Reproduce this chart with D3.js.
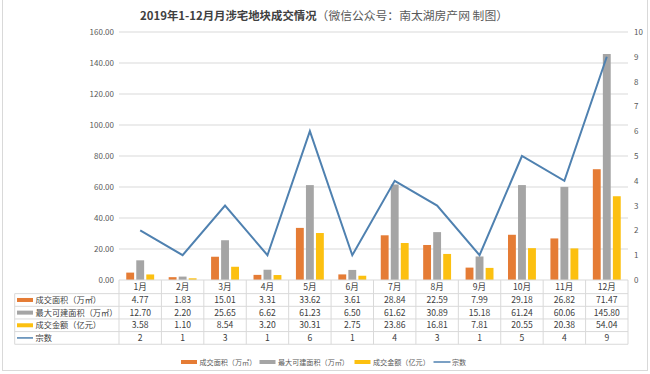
<!DOCTYPE html>
<html><head><meta charset="utf-8">
<script src="https://cdn.jsdelivr.net/npm/d3@7"></script>
<style>
html,body{margin:0;padding:0;background:#fff;}
text{font-family:"Noto Sans CJK SC","Noto Sans",sans-serif;}
</style></head>
<body><svg id="c" width="650" height="374"></svg>
<script>
const months = ["1月","2月","3月","4月","5月","6月","7月","8月","9月","10月","11月","12月"];
const area = [4.77,1.83,15.01,3.31,33.62,3.61,28.84,22.59,7.99,29.18,26.82,71.47];
const maxArea = [12.70,2.20,25.65,6.62,61.23,6.50,61.62,30.89,15.18,61.24,60.06,145.80];
const amount = [3.58,1.10,8.54,3.20,30.31,2.75,23.86,16.81,7.81,20.55,20.38,54.04];
const count = [2,1,3,1,6,1,4,3,1,5,4,9];
const leftTicks = [0,20,40,60,80,100,120,140,160];
const rightTicks = [0,1,2,3,4,5,6,7,8,9,10];
const seriesNames = ["成交面积（万㎡）","最大可建面积（万㎡）","成交金额（亿元）","宗数"];
const colors = ["#e57c35","#a5a5a5","#fcc010","#4f81b0"];

const svg = d3.select("#c");
const L = 119, R = 628, T = 32, B = 280;
const x = d3.scaleBand().domain(months).range([L, R]).padding(0);
const yL = d3.scaleLinear().domain([0,160]).range([B, T]);
const yR = d3.scaleLinear().domain([0,10]).range([B, T]);
const sub = d3.scaleBand().domain([0,1,2]).range([0, 27.9]).paddingInner(0.215);
const grid = "#d9d9d9", txt = "#595959", dark = "#404040";

// frame
svg.append("rect").attr("x",2.5).attr("y",-2).attr("width",645).attr("height",372.5)
  .attr("fill","none").attr("stroke","#d9d9d9");

// title
const title = svg.append("text").attr("x",324).attr("y",20).attr("text-anchor","middle");
title.append("tspan").attr("font-weight","bold").attr("font-size",11.4).attr("fill",dark).text("2019年1-12月月涉宅地块成交情况");
title.append("tspan").attr("font-size",11.8).attr("fill",txt).text("（微信公众号：南太湖房产网 制图）");

// grid
svg.append("g").selectAll("line").data(leftTicks.slice(1)).join("line")
  .attr("x1",L).attr("x2",R).attr("y1",d=>yL(d)).attr("y2",d=>yL(d))
  .attr("stroke",grid).attr("stroke-width",1);

// left axis
const ga = svg.append("g").attr("transform",`translate(${L},0)`)
  .call(d3.axisLeft(yL).tickValues(leftTicks).tickFormat(d3.format(".2f")).tickSize(0).tickPadding(5));
ga.select(".domain").remove();
ga.selectAll("text").attr("fill",txt).attr("font-size",8).attr("font-family","'Noto Sans CJK SC',sans-serif");
// right axis
const gr = svg.append("g").attr("transform",`translate(${R},0)`)
  .call(d3.axisRight(yR).tickValues(rightTicks).tickSize(0).tickPadding(6));
gr.select(".domain").remove();
gr.selectAll("text").attr("fill",txt).attr("font-size",8).attr("font-family","'Noto Sans CJK SC',sans-serif");

// bars
const barData = [area, maxArea, amount];
const off = (x.bandwidth() - 27.9)/2;
barData.forEach((arr,si)=>{
  svg.append("g").selectAll("rect").data(arr).join("rect")
    .attr("x",(d,i)=>x(months[i]) + off + sub(si))
    .attr("width",sub.bandwidth())
    .attr("y",d=>yL(d)).attr("height",d=>B - yL(d))
    .attr("fill",colors[si]);
});

// line
svg.append("path").datum(count)
  .attr("d",d3.line().x((d,i)=>x(months[i])+x.bandwidth()/2).y(d=>yR(d)))
  .attr("fill","none").attr("stroke",colors[3]).attr("stroke-width",2);

// table
const rowH = 12.65;
const tTop = B, tLeft = 14.7;
const fs = 8.6;
const tb = svg.append("g");
tb.append("line").attr("x1",L).attr("x2",R).attr("y1",tTop).attr("y2",tTop).attr("stroke",grid);
for(let r=1;r<=5;r++){
  tb.append("line").attr("x1",tLeft).attr("x2",R).attr("y1",tTop+r*rowH+1).attr("y2",tTop+r*rowH+1).attr("stroke",grid);
}
tb.append("line").attr("x1",tLeft).attr("x2",tLeft).attr("y1",tTop+rowH+1).attr("y2",tTop+5*rowH+1).attr("stroke",grid);
months.forEach(m=>{
  tb.append("line").attr("x1",x(m)).attr("x2",x(m)).attr("y1",tTop).attr("y2",tTop+5*rowH+1).attr("stroke",grid);
});
tb.append("line").attr("x1",R).attr("x2",R).attr("y1",tTop).attr("y2",tTop+5*rowH+1).attr("stroke",grid);
tb.selectAll("text.h").data(months).join("text").attr("class","h")
  .attr("x",d=>x(d)+x.bandwidth()/2).attr("y",tTop+rowH/2+1+3)
  .attr("text-anchor","middle").attr("font-size",fs).attr("fill",dark).text(d=>d);
const rows = [area.map(d=>d.toFixed(2)), maxArea.map(d=>d.toFixed(2)), amount.map(d=>d.toFixed(2)), count.map(String)];
rows.forEach((vals,ri)=>{
  const cy = tTop + (ri+1)*rowH + 1 + rowH/2;
  tb.append("g").selectAll("text").data(vals).join("text")
    .attr("x",(d,i)=>x(months[i])+x.bandwidth()/2).attr("y",cy+3)
    .attr("text-anchor","middle").attr("font-size",fs).attr("fill",dark).text(d=>d);
  if(ri<3){
    tb.append("rect").attr("x",17).attr("y",cy-2).attr("width",16).attr("height",4).attr("fill",colors[ri]);
  } else {
    tb.append("line").attr("x1",17).attr("x2",33).attr("y1",cy).attr("y2",cy).attr("stroke",colors[3]).attr("stroke-width",1.5);
  }
  tb.append("text").attr("x",35.5).attr("y",cy+3).attr("font-size",8.2).attr("fill",dark).text(seriesNames[ri]);
});

// legend
const lg = svg.append("g");
const legX = [181, 259.5, 354.5, 433.5];
const legY = 362;
seriesNames.forEach((n,i)=>{
  if(i<3) lg.append("rect").attr("x",legX[i]).attr("y",legY-2).attr("width",16).attr("height",4).attr("fill",colors[i]);
  else lg.append("line").attr("x1",legX[i]).attr("x2",legX[i]+17).attr("y1",legY).attr("y2",legY).attr("stroke",colors[3]).attr("stroke-width",1.5);
  lg.append("text").attr("x",legX[i]+18.5).attr("y",legY+2.5).attr("font-size",7.1).attr("fill",txt).text(n);
});
</script></body></html>
